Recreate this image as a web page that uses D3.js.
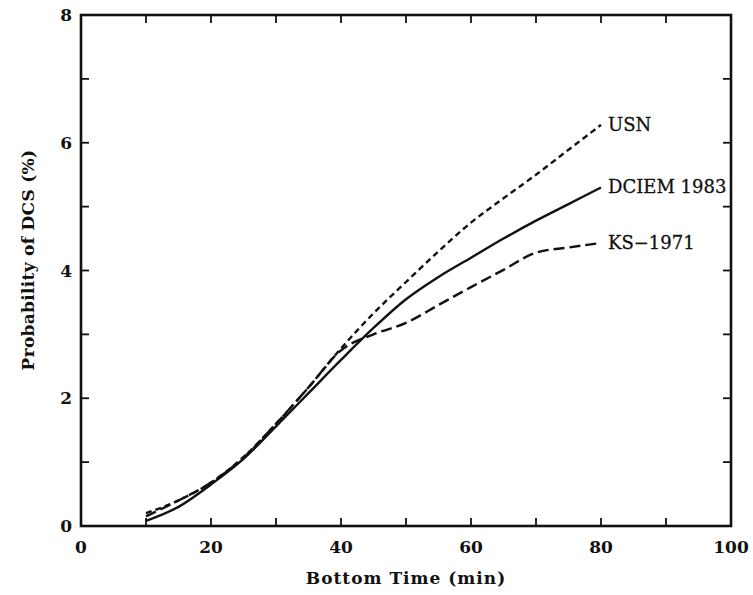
<!DOCTYPE html>
<html>
<head>
<meta charset="utf-8">
<script src="https://cdn.jsdelivr.net/npm/d3@7"></script>
<style>
  body { margin: 0; background: #fff; }
  text { fill: #111; }
</style>
</head>
<body>
<svg id="chart" width="753" height="595"></svg>
<script>
// data
const times = [10, 15, 20, 25, 30, 35, 40, 45, 50, 55, 60, 65, 70, 75, 80];
const usn = [0.2, 0.4, 0.68, 1.08, 1.6, 2.17, 2.78, 3.33, 3.82, 4.3, 4.75, 5.13, 5.5, 5.89, 6.28];
const dciem = [0.08, 0.3, 0.65, 1.05, 1.56, 2.08, 2.6, 3.1, 3.55, 3.9, 4.2, 4.5, 4.78, 5.04, 5.3];
const ks = [0.15, 0.4, 0.68, 1.07, 1.6, 2.17, 2.75, 3.0, 3.18, 3.46, 3.74, 4.01, 4.28, 4.36, 4.43];
const seriesNames = ['USN', 'DCIEM 1983', 'KS\u22121971'];
const xTicks = [0, 20, 40, 60, 80, 100];
const yTicks = [0, 2, 4, 6, 8];

const plotL = 81, plotR = 731, plotT = 15, plotB = 526;
const svg = d3.select('#chart');

const x = d3.scaleLinear().domain([0, 100]).range([plotL, plotR]);
const y = d3.scaleLinear().domain([0, 8]).range([plotB, plotT]);

const axisFont = 'DejaVu Serif';

// frame
svg.append('rect')
  .attr('x', plotL).attr('y', plotT)
  .attr('width', plotR - plotL).attr('height', plotB - plotT)
  .style('fill', 'none').style('stroke', '#111').style('stroke-width', 2.6);

// inward ticks on all four sides
const tickLen = 8;
const xt = d3.range(10, 100, 10);
const yt = d3.range(1, 8, 1);
const tickG = svg.append('g').style('stroke', '#111').style('stroke-width', 1.8);
xt.forEach(v => {
  tickG.append('line').attr('x1', x(v)).attr('x2', x(v)).attr('y1', plotB).attr('y2', plotB - tickLen);
  tickG.append('line').attr('x1', x(v)).attr('x2', x(v)).attr('y1', plotT).attr('y2', plotT + tickLen);
});
yt.forEach(v => {
  tickG.append('line').attr('x1', plotL).attr('x2', plotL + tickLen).attr('y1', y(v)).attr('y2', y(v));
  tickG.append('line').attr('x1', plotR).attr('x2', plotR - tickLen).attr('y1', y(v)).attr('y2', y(v));
});

// tick labels
svg.append('g').selectAll('text').data(xTicks).join('text')
  .attr('x', d => x(d)).attr('y', plotB + 27)
  .attr('text-anchor', 'middle')
  .style('font-family', axisFont).style('font-size', '17px').style('font-weight', 'bold')
  .text(d => d);
svg.append('g').selectAll('text').data(yTicks).join('text')
  .attr('x', plotL - 9).attr('y', d => y(d) + 6)
  .attr('text-anchor', 'end')
  .style('font-family', axisFont).style('font-size', '17px').style('font-weight', 'bold')
  .text(d => d);

// axis titles
svg.append('text')
  .attr('x', 406).attr('y', 584)
  .attr('text-anchor', 'middle')
  .style('font-family', axisFont).style('font-size', '17px').style('font-weight', 'bold')
  .style('letter-spacing', '1px')
  .text('Bottom Time (min)');
svg.append('text')
  .attr('transform', 'translate(34,260) rotate(-90)')
  .attr('text-anchor', 'middle')
  .style('font-family', axisFont).style('font-size', '17px').style('font-weight', 'bold')
  .style('letter-spacing', '0.3px')
  .text('Probability of DCS (%)');

// curves
const line = d3.line()
  .x(d => x(d[0]))
  .y(d => y(d[1]))
  .curve(d3.curveMonotoneX);

const series = [
  { name: seriesNames[0], vals: usn, dash: '6,4' },
  { name: seriesNames[1], vals: dciem, dash: null },
  { name: seriesNames[2], vals: ks, dash: '11,5' }
];

series.forEach(s => {
  const pts = times.map((t, i) => [t, s.vals[i]]);
  svg.append('path')
    .datum(pts)
    .attr('d', line)
    .style('fill', 'none')
    .style('stroke', '#111')
    .style('stroke-width', 2.4)
    .style('stroke-dasharray', s.dash);

  // label right after the end of the curve
  const last = pts[pts.length - 1];
  svg.append('text')
    .attr('x', x(last[0]) + 7)
    .attr('y', y(last[1]) + 6)
    .style('font-family', axisFont).style('font-size', '18px')
    .style('stroke', '#111').style('stroke-width', 0.3)
    .text(s.name);
});
</script>
</body>
</html>
